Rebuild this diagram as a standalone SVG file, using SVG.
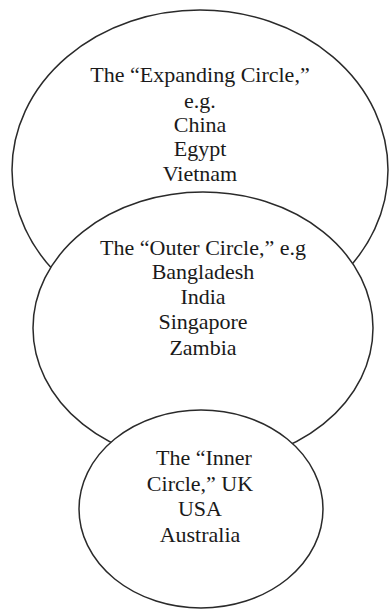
<svg xmlns="http://www.w3.org/2000/svg" width="390" height="611" viewBox="0 0 390 611">
<style>
.c{fill:#fff;stroke:#2a2a2a;stroke-width:1.5}
.t{font-family:"Liberation Serif","Times New Roman",serif;font-size:22px;fill:#1a1a1a;text-anchor:middle}
</style>
<rect width="390" height="611" fill="#fff"/>
<g id="expanding">
<ellipse class="c" cx="200" cy="170" rx="188" ry="160"/>
<text class="t" x="200" y="82">The “Expanding Circle,”</text>
<text class="t" x="200" y="108">e.g.</text>
<text class="t" x="200" y="132">China</text>
<text class="t" x="200" y="156">Egypt</text>
<text class="t" x="200" y="181">Vietnam</text>
</g>
<g id="outer">
<ellipse class="c" cx="203" cy="328" rx="170" ry="136"/>
<text class="t" x="203" y="255">The “Outer Circle,” e.g</text>
<text class="t" x="203" y="279">Bangladesh</text>
<text class="t" x="203" y="304">India</text>
<text class="t" x="203" y="329">Singapore</text>
<text class="t" x="203" y="355">Zambia</text>
</g>
<g id="inner">
<ellipse class="c" cx="201" cy="509" rx="122" ry="99"/>
<text class="t" x="204" y="465">The “Inner</text>
<text class="t" x="200" y="491">Circle,” UK</text>
<text class="t" x="200" y="516">USA</text>
<text class="t" x="200" y="542">Australia</text>
</g>
<g id="connectors"/>
</svg>
